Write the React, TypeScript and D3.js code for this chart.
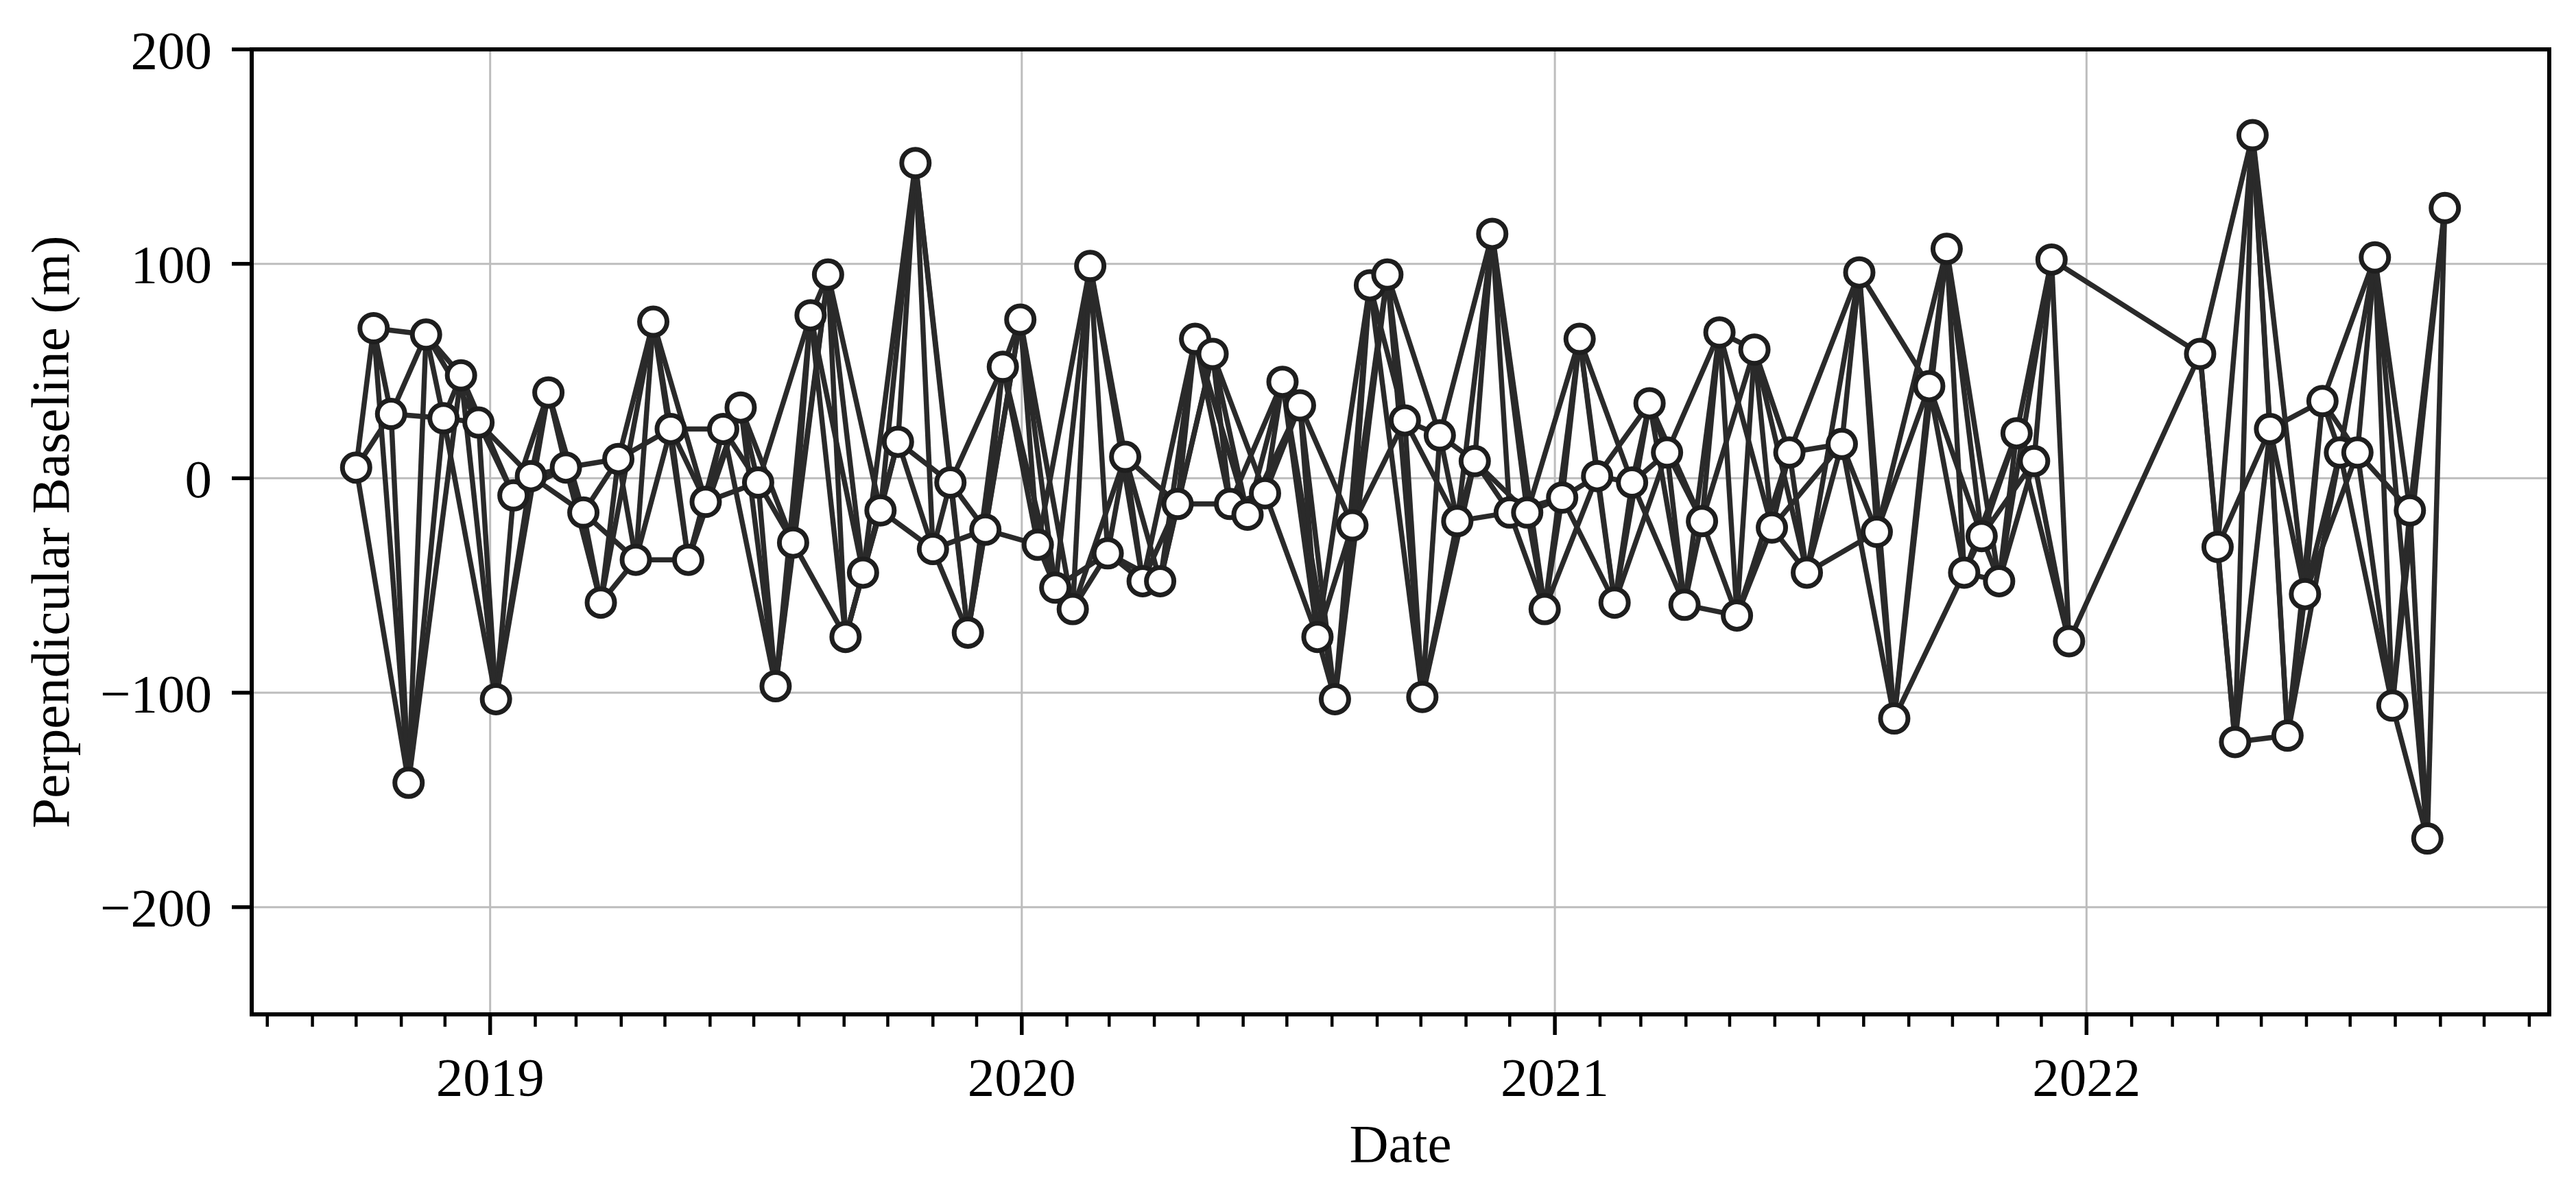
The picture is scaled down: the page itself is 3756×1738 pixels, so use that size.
import React from "react";
import * as d3 from "d3";

// acquisition dates (Sentinel-1, 12-day repeat)
const dates = [
  "2018-10-01", "2018-10-13", "2018-10-25", "2018-11-06", "2018-11-18", "2018-11-30",
  "2018-12-12", "2018-12-24", "2019-01-05", "2019-01-17", "2019-01-29", "2019-02-10",
  "2019-02-22", "2019-03-06", "2019-03-18", "2019-03-30", "2019-04-11", "2019-04-23",
  "2019-05-05", "2019-05-17", "2019-05-29", "2019-06-10", "2019-06-22", "2019-07-04",
  "2019-07-16", "2019-07-28", "2019-08-09", "2019-08-21", "2019-09-02", "2019-09-14",
  "2019-09-26", "2019-10-08", "2019-10-20", "2019-11-01", "2019-11-13", "2019-11-25",
  "2019-12-07", "2019-12-19", "2019-12-31", "2020-01-12", "2020-01-24", "2020-02-05",
  "2020-02-17", "2020-02-29", "2020-03-12", "2020-03-24", "2020-04-05", "2020-04-17",
  "2020-04-29", "2020-05-11", "2020-05-23", "2020-06-04", "2020-06-16", "2020-06-28",
  "2020-07-10", "2020-07-22", "2020-08-03", "2020-08-15", "2020-08-27", "2020-09-08",
  "2020-09-20", "2020-10-02", "2020-10-14", "2020-10-26", "2020-11-07", "2020-11-19",
  "2020-12-01", "2020-12-13", "2020-12-25", "2021-01-06", "2021-01-18", "2021-01-30",
  "2021-02-11", "2021-02-23", "2021-03-07", "2021-03-19", "2021-03-31", "2021-04-12",
  "2021-04-24", "2021-05-06", "2021-05-18", "2021-05-30", "2021-06-11", "2021-06-23",
  "2021-07-17", "2021-07-29", "2021-08-10", "2021-08-22",
  "2021-09-15", "2021-09-27", "2021-10-09", "2021-10-21", "2021-11-02", "2021-11-14",
  "2021-11-26", "2021-12-08", "2021-12-20",
  "2022-03-20", "2022-04-01", "2022-04-13", "2022-04-25", "2022-05-07", "2022-05-19",
  "2022-05-31", "2022-06-12", "2022-06-24", "2022-07-06", "2022-07-18", "2022-07-30",
  "2022-08-11", "2022-08-23", "2022-09-04",
];

// perpendicular baseline of each acquisition (m)
const baselines = [
  5, 70, 30, -142, 67, 28, 48, 26, -103, -8, 1, 40,
  5, -16, -58, 9, -38, 73, 23, -38, -11, 23, 33, -2,
  -97, -30, 76, 95, -74, -44, -15, 17, 147, -33, -2, -72,
  -24, 52, 74, -31, -51, -61, 99, -35, 10, -48, -48, -12,
  65, 58, -12, -17, -7, 45, 34, -74, -103, -22, 90, 95,
  27, -102, 20, -20, 8, 114, -16, -16, -61, -9, 65, 1,
  -58, -2, 35, 12, -59, -20, 68, -64, 60, -23, 12, -44,
  16, 96, -25, -112,
  43, 107, -44, -27, -48, 21, 8, 102, -76,
  58, -32, -123, 160, 23, -120, -54, 36, 12, 12, 103, -106, -15, -168, 126,
];

// pairs that span the Dec 2021 - Mar 2022 gap (indices into dates)
const bridges: [number, number][] = [[95, 97], [96, 97]];

const yTicks = [-200, -100, 0, 100, 200];
const yDomain = [-250, 200];

const W = 3756;
const H = 1738;
const left = 367;
const right = 3717;
const top = 72;
const bottom = 1479;
const font = "'Liberation Serif', 'Times New Roman', Times, serif";
const fs = 79;

export default function App() {
  const parse = d3.utcParse("%Y-%m-%d");
  const t = dates.map((d) => parse(d) as Date);
  const [t0, t1] = d3.extent(t) as [Date, Date];
  const pad = (+t1 - +t0) * 0.05;

  const x = d3
    .scaleUtc()
    .domain([new Date(+t0 - pad), new Date(+t1 + pad)])
    .range([left, right]);
  const y = d3.scaleLinear().domain(yDomain).range([bottom, top]);

  // each scene linked to the next three within 60 days
  const day = 86400000;
  const links: [number, number][] = [];
  for (let i = 0; i < t.length; i++) {
    for (let j = i + 1; j <= i + 3 && j < t.length; j++) {
      if (+t[j] - +t[i] <= 60 * day) links.push([i, j]);
    }
  }
  bridges.forEach((b) => links.push(b));

  const years = x.ticks(d3.utcYear.every(1));
  const months = x
    .ticks(d3.utcMonth.every(1))
    .filter((d) => d.getUTCMonth() !== 0);

  const fmt = (v: number) => (v < 0 ? "\u2212" + Math.abs(v) : String(v));

  return (
    <svg
      width={W}
      height={H}
      style={{ position: "absolute", left: 0, top: 0, display: "block", background: "#fff" }}
      fontFamily={font}
    >
      {/* grid */}
      <g stroke="#bdbdbd" strokeWidth={3}>
        {yTicks.map((v) => (
          <line key={"gy" + v} x1={left} x2={right} y1={y(v)} y2={y(v)} />
        ))}
        {years.map((d) => (
          <line key={"gx" + +d} x1={x(d)} x2={x(d)} y1={top} y2={bottom} />
        ))}
      </g>

      {/* interferogram pairs */}
      <g stroke="#2a2a2a" strokeWidth={7.5}>
        {links.map(([a, b]) => (
          <line
            key={a + "-" + b}
            x1={x(t[a])}
            y1={y(baselines[a])}
            x2={x(t[b])}
            y2={y(baselines[b])}
          />
        ))}
      </g>

      {/* acquisitions */}
      <g fill="#fff" stroke="#1e1e1e" strokeWidth={7}>
        {t.map((d, i) => (
          <circle key={"p" + i} cx={x(d)} cy={y(baselines[i])} r={20} />
        ))}
      </g>

      {/* frame */}
      <rect
        x={left}
        y={top}
        width={right - left}
        height={bottom - top}
        fill="none"
        stroke="#000"
        strokeWidth={6}
      />

      {/* y axis */}
      <g stroke="#000" strokeWidth={5.5}>
        {yTicks.map((v) => (
          <line key={"ty" + v} x1={left - 29} x2={left} y1={y(v)} y2={y(v)} />
        ))}
      </g>
      <g fontSize={fs} textAnchor="end" fill="#000">
        {yTicks.map((v) => (
          <text key={"ly" + v} x={left - 58} y={y(v)} dy="0.35em">
            {fmt(v)}
          </text>
        ))}
      </g>

      {/* x axis */}
      <g stroke="#000">
        {years.map((d) => (
          <line key={"tx" + +d} x1={x(d)} x2={x(d)} y1={bottom} y2={bottom + 30} strokeWidth={5.5} />
        ))}
        {months.map((d) => (
          <line key={"mx" + +d} x1={x(d)} x2={x(d)} y1={bottom} y2={bottom + 18} strokeWidth={4.5} />
        ))}
      </g>
      <g fontSize={fs} textAnchor="middle" fill="#000">
        {years.map((d) => (
          <text key={"lx" + +d} x={x(d)} y={1597}>
            {d3.utcFormat("%Y")(d)}
          </text>
        ))}
      </g>

      {/* axis titles */}
      <text x={(left + right) / 2} y={1694} fontSize={fs} textAnchor="middle">
        Date
      </text>
      <text
        transform={`translate(100, ${(top + bottom) / 2}) rotate(-90)`}
        fontSize={fs}
        textAnchor="middle"
      >
        Perpendicular Baseline (m)
      </text>
    </svg>
  );
}
